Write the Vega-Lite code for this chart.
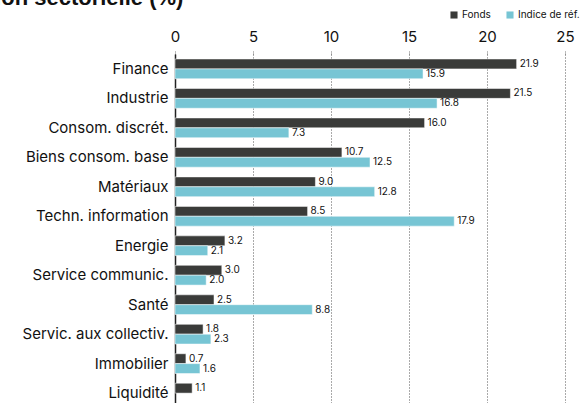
{
  "$schema": "https://vega.github.io/schema/vega-lite/v6.json",
  "width": 390,
  "height": 354,
  "autosize": {"type": "none"},
  "padding": {"left": 175, "top": 54, "right": 19, "bottom": 0},
  "title": {"text": "Répartition sectorielle (%)", "anchor": "start", "frame": "group", "fontSize": 22, "font": "Liberation Sans", "fontWeight": "bold", "color": "#111111", "baseline": "alphabetic", "dx": -263, "dy": 21},
  "config": {"view": {"stroke": null}, "font": "Inter"},
  "data": {"values": [
    {"secteur": "Finance", "serie": "Fonds", "valeur": 21.9},
    {"secteur": "Finance", "serie": "Indice de réf.", "valeur": 15.9},
    {"secteur": "Industrie", "serie": "Fonds", "valeur": 21.5},
    {"secteur": "Industrie", "serie": "Indice de réf.", "valeur": 16.8},
    {"secteur": "Consom. discrét.", "serie": "Fonds", "valeur": 16.0},
    {"secteur": "Consom. discrét.", "serie": "Indice de réf.", "valeur": 7.3},
    {"secteur": "Biens consom. base", "serie": "Fonds", "valeur": 10.7},
    {"secteur": "Biens consom. base", "serie": "Indice de réf.", "valeur": 12.5},
    {"secteur": "Matériaux", "serie": "Fonds", "valeur": 9.0},
    {"secteur": "Matériaux", "serie": "Indice de réf.", "valeur": 12.8},
    {"secteur": "Techn. information", "serie": "Fonds", "valeur": 8.5},
    {"secteur": "Techn. information", "serie": "Indice de réf.", "valeur": 17.9},
    {"secteur": "Energie", "serie": "Fonds", "valeur": 3.2},
    {"secteur": "Energie", "serie": "Indice de réf.", "valeur": 2.1},
    {"secteur": "Service communic.", "serie": "Fonds", "valeur": 3.0},
    {"secteur": "Service communic.", "serie": "Indice de réf.", "valeur": 2.0},
    {"secteur": "Santé", "serie": "Fonds", "valeur": 2.5},
    {"secteur": "Santé", "serie": "Indice de réf.", "valeur": 8.8},
    {"secteur": "Servic. aux collectiv.", "serie": "Fonds", "valeur": 1.8},
    {"secteur": "Servic. aux collectiv.", "serie": "Indice de réf.", "valeur": 2.3},
    {"secteur": "Immobilier", "serie": "Fonds", "valeur": 0.7},
    {"secteur": "Immobilier", "serie": "Indice de réf.", "valeur": 1.6},
    {"secteur": "Liquidité", "serie": "Fonds", "valeur": 1.1}
  ]},
  "encoding": {
    "y": {"field": "secteur", "type": "nominal", "sort": null,
      "scale": {"paddingInner": 0.33, "paddingOuter": 0.17},
      "axis": {"title": null, "ticks": false, "domainColor": "#222222", "domainWidth": 1.5, "labelFontSize": 15, "labelColor": "#111111", "labelPadding": 7, "grid": false}},
    "yOffset": {"field": "serie", "type": "nominal", "sort": ["Fonds", "Indice de réf."]},
    "x": {"field": "valeur", "type": "quantitative",
      "scale": {"domain": [0, 25], "nice": false},
      "axis": {"orient": "top", "title": null, "values": [0, 5, 10, 15, 20, 25], "domain": false, "labelFlush": false, "tickColor": "#777777", "tickDash": [1, 1], "tickSize": 4, "labelFontSize": 15, "labelColor": "#111111", "labelPadding": 6, "grid": true, "gridColor": "#555555", "gridDash": [1, 2], "gridWidth": 1}}
  },
  "layer": [
    {"mark": {"type": "bar", "stroke": "#ffffff", "strokeWidth": 0.5},
      "encoding": {
        "color": {"field": "serie", "type": "nominal",
          "scale": {"domain": ["Fonds", "Indice de réf."], "range": ["#3a3b39", "#77c5d4"]},
          "legend": {"title": null, "orient": "none", "direction": "horizontal", "legendX": 274, "legendY": -44, "symbolType": "square", "symbolSize": 50, "symbolStrokeWidth": 0, "labelFontSize": 10, "labelColor": "#111111", "labelOffset": 3, "columnPadding": 14}}
      }},
    {"mark": {"type": "text", "align": "left", "baseline": "middle", "dx": 3, "fontSize": 10, "color": "#111111"},
      "encoding": {"text": {"field": "valeur", "type": "quantitative", "format": ".1f"}}}
  ]
}
